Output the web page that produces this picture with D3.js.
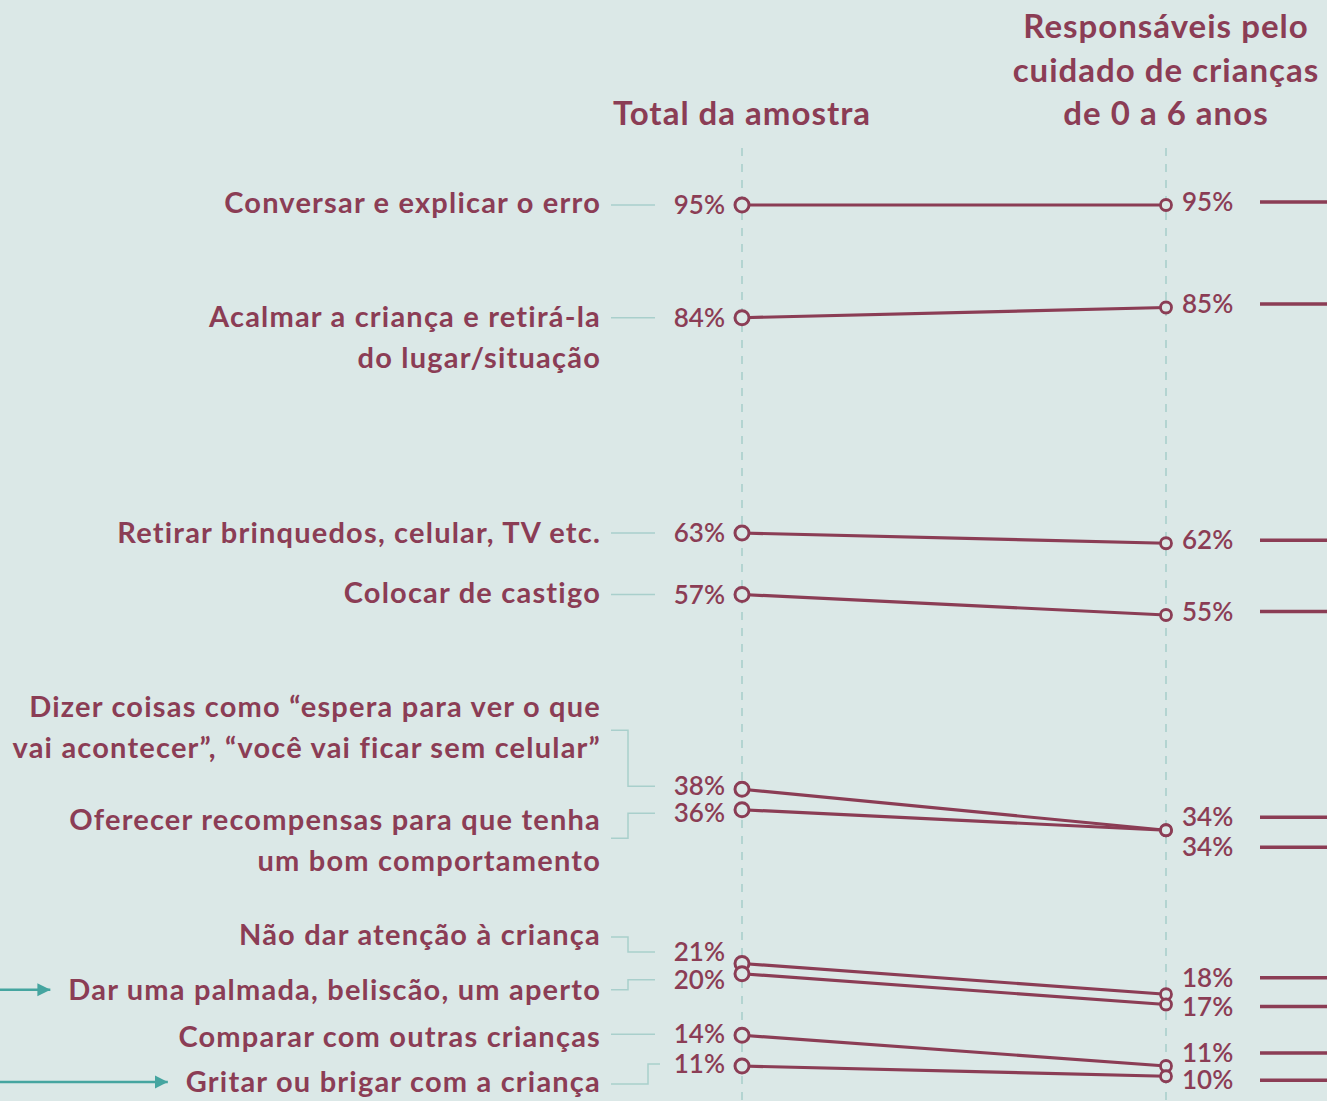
<!DOCTYPE html>
<meta charset="utf-8">
<style>
body { margin: 0; background: #dbe8e7; }
svg { display: block; font-family: Lato, "Noto Sans", sans-serif; }
.cat { fill: #8b3d55; font-size: 29px; font-weight: 700; letter-spacing: 1.2px; }
.val { fill: #8b3d55; font-size: 26px; font-weight: 600; }
.head { fill: #8b3d55; font-size: 33px; font-weight: 700; letter-spacing: 1px; }
</style>
<body>
<svg id="chart" width="1327" height="1101"></svg>
<script src="https://cdn.jsdelivr.net/npm/d3@7"></script>
<script>

var categories = [
  ["Conversar e explicar o erro"],
  ["Acalmar a criança e retirá-la", "do lugar/situação"],
  ["Retirar brinquedos, celular, TV etc."],
  ["Colocar de castigo"],
  ["Dizer coisas como “espera para ver o que", "vai acontecer”, “você vai ficar sem celular”"],
  ["Oferecer recompensas para que tenha", "um bom comportamento"],
  ["Não dar atenção à criança"],
  ["Dar uma palmada, beliscão, um aperto"],
  ["Comparar com outras crianças"],
  ["Gritar ou brigar com a criança"]
];
var totalValues = [95, 84, 63, 57, 38, 36, 21, 20, 14, 11];
var careValues = [95, 85, 62, 55, 34, 34, 18, 17, 11, 10];
var columnTitles = [["Total da amostra"], ["Responsáveis pelo", "cuidado de crianças", "de 0 a 6 anos"]];
var highlighted = [7, 9];

// label nudges (px) so crowded labels don't overlap
var textDy  = [-2, -1, 0, -1.5, -82, 10.5, -28.5, 16, 2, 16];
var connDy  = [0, 0, 0, 0, 23, 18, 2, 0, 0, 2];
var totalDy = [0, 0, 0, 0, -3, 3.5, -11.5, 6, -1, -2];
var careDy  = [-3, -3.5, -3, -3.5, -13, 17, -16.5, 2, -13, 4];

var maroon = "#8b3d55", teal = "#a9cfcc", arrowTeal = "#45a5a0";

var svg = d3.select("#chart");
var W = 1327, H = 1101;

var x = d3.scalePoint().domain(["total", "care"]).range([742, 1166]);
var y = d3.scaleLinear().domain([11, 95]).range([1066, 205]);

var labelX = 601, elbowX = 628, connEnd = 655, lineH = 41;

svg.append("defs").append("marker")
  .attr("id", "arrow")
  .attr("viewBox", "0 0 10 10")
  .attr("refX", 10).attr("refY", 5)
  .attr("markerWidth", 13).attr("markerHeight", 18)
  .attr("markerUnits", "userSpaceOnUse")
  .attr("orient", "auto")
  .append("path").attr("d", "M0,0L10,5L0,10Z").attr("fill", arrowTeal);

// column titles
columnTitles.forEach(function(lines, ci) {
  var cx = x.domain()[ci];
  var t = svg.append("text").attr("class", "head")
    .attr("text-anchor", "middle")
    .attr("x", x(cx)).attr("y", 125 - (lines.length - 1) * 43.5);
  lines.forEach(function(l, i) {
    t.append("tspan").attr("x", x(cx)).attr("dy", i ? 43.5 : 0).text(l);
  });
});

// dashed guides
x.domain().forEach(function(k) {
  svg.append("line")
    .attr("x1", x(k)).attr("x2", x(k))
    .attr("y1", 148).attr("y2", H)
    .attr("stroke", "#b3d4d1").attr("stroke-width", 2)
    .attr("stroke-dasharray", "8,8");
});

var rows = categories.map(function(c, i) {
  return {name: c, total: totalValues[i], care: careValues[i], i: i};
});

var g = svg.selectAll(".row").data(rows).enter().append("g").attr("class", "row");

// category labels
g.each(function(d) {
  var sel = d3.select(this);
  var cy = y(d.total) + textDy[d.i];
  var t = sel.append("text").attr("class", "cat")
    .attr("text-anchor", "end")
    .attr("x", labelX).attr("y", cy);
  d.name.forEach(function(l, k) {
    t.append("tspan").attr("x", labelX).attr("dy", k ? lineH : "0.35em").text(l);
  });

  // connector (straight or elbow)
  var y0 = cy + connDy[d.i], y1 = y(d.total) + totalDy[d.i];
  var ex = d.i === 9 ? 648 : elbowX, endX = d.i === 9 ? 660 : connEnd;
  var pts = Math.abs(y0 - y1) < 4
    ? [[611, y1], [endX, y1]]
    : [[611, y0], [ex, y0], [ex, y1], [endX, y1]];
  sel.append("path")
    .attr("d", d3.line()(pts))
    .attr("fill", "none").attr("stroke", teal).attr("stroke-width", 1.5);

  if (highlighted.indexOf(d.i) >= 0) {
    var bb = t.node().getBBox();
    sel.append("line")
      .attr("x1", 0).attr("x2", bb.x - 18)
      .attr("y1", cy).attr("y2", cy)
      .attr("stroke", arrowTeal).attr("stroke-width", 2.5)
      .attr("marker-end", "url(#arrow)");
  }
});

// slope lines
g.append("line")
  .attr("x1", x("total")).attr("y1", function(d) { return y(d.total); })
  .attr("x2", x("care")).attr("y2", function(d) { return y(d.care); })
  .attr("stroke", maroon).attr("stroke-width", 3.2);

// value labels
g.append("text").attr("class", "val")
  .attr("text-anchor", "end")
  .attr("x", 725)
  .attr("y", function(d) { return y(d.total) + totalDy[d.i]; })
  .attr("dy", "0.35em")
  .text(function(d) { return d.total + "%"; });

g.append("text").attr("class", "val")
  .attr("x", 1182)
  .attr("y", function(d) { return y(d.care) + careDy[d.i]; })
  .attr("dy", "0.35em")
  .text(function(d) { return d.care + "%"; });

// stubs running off to the right
g.append("line")
  .attr("x1", 1260).attr("x2", W)
  .attr("y1", function(d) { return y(d.care) + careDy[d.i]; })
  .attr("y2", function(d) { return y(d.care) + careDy[d.i]; })
  .attr("stroke", maroon).attr("stroke-width", 3.5);

// points
g.append("circle")
  .attr("cx", x("total")).attr("cy", function(d) { return y(d.total); })
  .attr("r", 7).attr("fill", "#dbe8e7").attr("stroke", maroon).attr("stroke-width", 3);

g.append("circle")
  .attr("cx", x("care")).attr("cy", function(d) { return y(d.care); })
  .attr("r", 5.5).attr("fill", "#dbe8e7").attr("stroke", maroon).attr("stroke-width", 2.8);

</script>
